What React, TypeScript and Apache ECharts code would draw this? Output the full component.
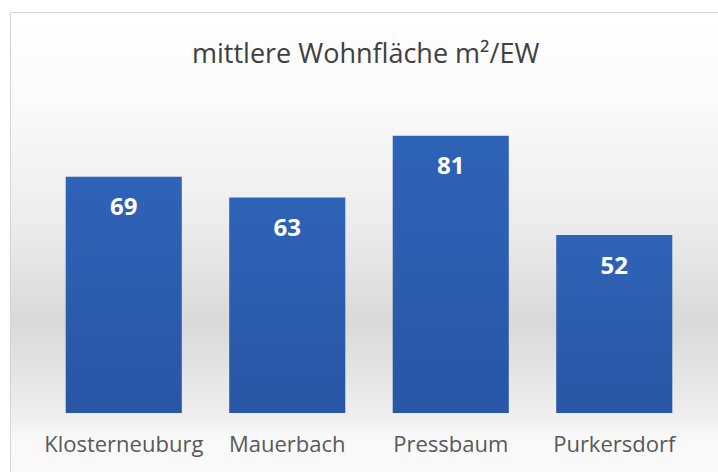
import React, { useEffect, useRef } from "react";
import * as echarts from "echarts";

const categories = ["Klosterneuburg", "Mauerbach", "Pressbaum", "Purkersdorf"];
const values = [69, 63, 81, 52];
const titleText = "mittlere Wohnfläche m²/EW";

export default function App() {
  const ref = useRef<HTMLDivElement>(null);
  useEffect(() => {
    if (!ref.current) return;
    const chart = echarts.init(ref.current, null, { renderer: "svg" });
    chart.setOption({
      animation: false,
      backgroundColor: "#ffffff",
      graphic: [
        {
          type: "rect",
          z: -10,
          silent: true,
          shape: { x: 10.5, y: 12.5, width: 720, height: 470 },
          style: {
            stroke: "#d4d4d4",
            lineWidth: 1,
            fill: {
              type: "linear",
              x: 0, y: 0, x2: 0, y2: 1,
              colorStops: [
                { offset: 0, color: "#ffffff" },
                { offset: 0.2, color: "#fafafa" },
                { offset: 0.45, color: "#ececec" },
                { offset: 0.66, color: "#d9d9d9" },
                { offset: 0.86, color: "#efefef" },
                { offset: 0.9, color: "#f8f8f8" },
                { offset: 1, color: "#fafafa" },
              ],
            },
          },
        },
      ],
      title: {
        text: titleText,
        left: 187,
        top: 34,
        textStyle: {
          fontFamily: "Open Sans",
          fontSize: 27,
          fontWeight: "normal",
          color: "#404040",
        },
      },
      grid: { left: 42, right: 22, top: 105, bottom: 59 },
      xAxis: {
        type: "category",
        data: categories,
        axisLine: { show: false },
        axisTick: { show: false },
        axisLabel: {
          interval: 0,
          color: "#595959",
          fontFamily: "Open Sans",
          fontSize: 22,
          margin: 19,
        },
      },
      yAxis: {
        type: "value",
        min: 0,
        max: 90,
        show: false,
        splitLine: { show: false },
      },
      series: [
        {
          type: "bar",
          data: values,
          barCategoryGap: "29%",
          itemStyle: {
            color: {
              type: "linear",
              x: 0, y: 0, x2: 0, y2: 1,
              colorStops: [
                { offset: 0, color: "#2f63b8" },
                { offset: 1, color: "#2956a5" },
              ],
            },
          },
          label: {
            show: true,
            position: "insideTop",
            distance: 17,
            color: "#ffffff",
            fontFamily: "Open Sans",
            fontWeight: "bold",
            fontSize: 24,
          },
        },
      ],
    });
    return () => chart.dispose();
  }, []);
  return <div ref={ref} style={{ width: 718, height: 472, position: "absolute", left: 0, top: 0 }} />;
}
